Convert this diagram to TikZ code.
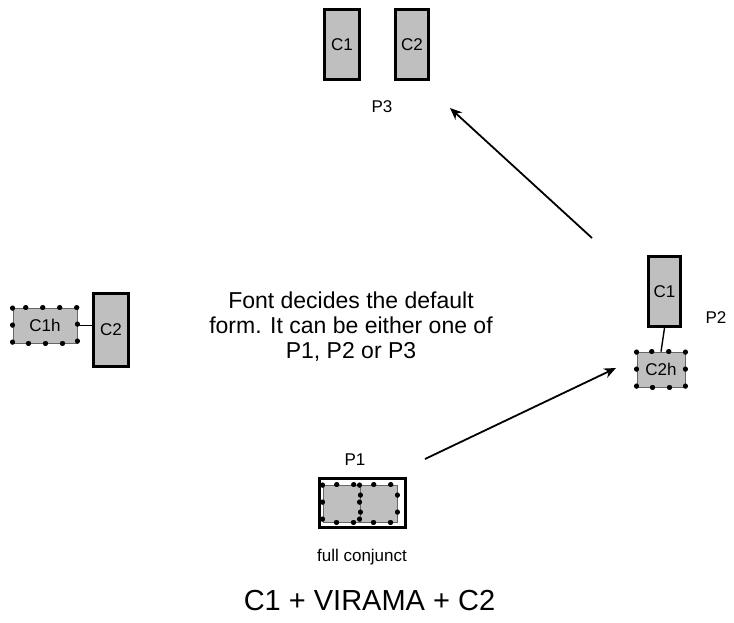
\documentclass[tikz,border=0pt]{standalone}
\usepackage{fontspec}
\setmainfont{Liberation Sans}
\usetikzlibrary{arrows.meta}
\definecolor{boxgray}{RGB}{191,191,191}
\tikzset{
  solidbox/.style={draw=black, line width=3pt, fill=boxgray, rectangle, inner sep=0pt, font=\fontsize{17}{20}\selectfont},
  halfbox/.style={draw=gray!80!black, line width=0.6pt, fill=boxgray, rectangle, inner sep=0pt, font=\fontsize{17}{20}\selectfont},
  dots/.style={draw=black, line width=4.5pt, line cap=round, dash pattern=on 0.8pt off 16.2pt},
  lbl/.style={font=\fontsize{17}{20}\selectfont, inner sep=0pt},
  arr/.style={draw=black, line width=1.8pt, -{Stealth[length=12pt,width=10pt]}},
  link/.style={draw=black, line width=1.4pt}
}
\begin{document}
\begin{tikzpicture}[x=1pt,y=-1pt]
\useasboundingbox (0,0) rectangle (734,622);
% P3
\node[solidbox, minimum width=35pt, minimum height=70pt] (p3c1) at (342,44.5) {C1};
\node[solidbox, minimum width=33pt, minimum height=70pt] (p3c2) at (412,44.5) {C2};
\node[lbl] (p3) at (382,107) {P3};
% left
\node[halfbox, minimum width=64pt, minimum height=35pt] (lc1h) at (45,325.5) {C1h};
\path[dots] (lc1h.north west) rectangle (lc1h.south east);
\node[solidbox, minimum width=35pt, minimum height=73pt] (lc2) at (111,330) {C2};
\draw[link] (lc1h.east) -- (lc2.west |- lc1h.east);
% right P2
\node[solidbox, minimum width=32pt, minimum height=70pt] (rc1) at (664.5,291.5) {C1};
\node[halfbox, minimum width=48pt, minimum height=35pt] (rc2h) at (661,369.5) {C2h};
\path[dots] (rc2h.north west) rectangle (rc2h.south east);
\draw[link] (rc1.south) -- (rc2h.north);
\node[lbl] (p2) at (716,318) {P2};
% P1
\node[draw=black, line width=3pt, fill=white, rectangle, minimum width=86pt, minimum height=49pt, inner sep=0pt] (p1box) at (362.5,503) {};
\node[halfbox, minimum width=37pt, minimum height=37pt] (p1a) at (341.5,503.5) {};
\node[halfbox, minimum width=37pt, minimum height=37pt] (p1b) at (378.5,503.5) {};
\path[dots] (p1a.north west) rectangle (p1a.south east);
\path[dots] (p1b.north west) rectangle (p1b.south east);
\node[lbl] (p1) at (355,460) {P1};
\node[lbl] (fc) at (362,557) {full conjunct};
% middle text
\node[align=center, inner sep=0pt, font=\fontsize{23}{25}\selectfont] (mid) at (351,327) {Font decides the default\\form. It can be either one of\\P1, P2 or P3};
% bottom
\node[inner sep=0pt, font=\fontsize{29}{32}\selectfont] (formula) at (369.5,601) {C1 + VIRAMA + C2};
% arrows
\coordinate (a1s) at (425,459);
\coordinate (a1e) at (616,368);
\coordinate (a2s) at (592,238);
\coordinate (a2e) at (450,108);
\draw[arr] (a1s) -- (a1e);
\draw[arr] (a2s) -- (a2e);
\end{tikzpicture}
\end{document}
